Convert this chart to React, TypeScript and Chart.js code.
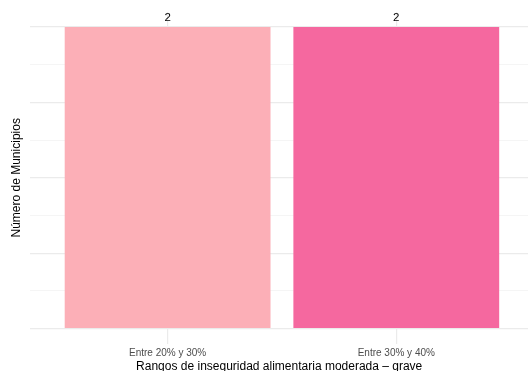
import React, { useEffect, useRef } from "react";
import { Chart, registerables } from "chart.js";

Chart.register(...registerables);

const CATEGORIES = ["Entre 20% y 30%", "Entre 30% y 40%"];
const VALUES = [2, 2];
const BAR_COLORS = ["#FCAFB7", "#F5689F"];
const Y_GRID = [0, 0.25, 0.5, 0.75, 1, 1.25, 1.5, 1.75, 2];
const X_TITLE = "Rangos de inseguridad alimentaria moderada – grave";
const Y_TITLE = "Número de Municipios";

const FONT = "'Liberation Sans', Arial, Helvetica, sans-serif";

const valueLabels = {
  id: "valueLabels",
  afterDatasetsDraw(chart: any) {
    const ctx = chart.ctx;
    const meta = chart.getDatasetMeta(0);
    ctx.save();
    ctx.fillStyle = "#000000";
    ctx.font = `11.5px ${FONT}`;
    ctx.textAlign = "center";
    ctx.textBaseline = "bottom";
    meta.data.forEach((bar: any, i: number) => {
      ctx.fillText(String(VALUES[i]), bar.x, bar.y - 3);
    });
    ctx.restore();
  },
};

export default function App() {
  const ref = useRef<HTMLCanvasElement | null>(null);

  useEffect(() => {
    document.body.style.margin = "0";
    const canvas = ref.current!;
    const chart = new Chart(canvas, {
      type: "bar",
      data: {
        datasets: [
          {
            data: CATEGORIES.map((c, i) => ({ x: i, y: VALUES[i] })),
            backgroundColor: BAR_COLORS,
            borderWidth: 0,
            categoryPercentage: 1,
            barPercentage: 0.9,
          },
        ],
      },
      options: {
        animation: false,
        responsive: false,
        maintainAspectRatio: false,
        layout: { padding: { top: 12, left: 6, right: 0, bottom: -8 } },
        plugins: {
          legend: { display: false },
          tooltip: { enabled: false },
        },
        scales: {
          x: {
            type: "linear",
            offset: false,
            min: -0.6,
            max: 1.576,
            afterBuildTicks: (axis: any) => {
              axis.ticks = CATEGORIES.map((c, i) => ({ value: i }));
            },
            grid: {
              offset: false,
              color: "#EBEBEB",
              lineWidth: 1.2,
              drawTicks: false,
            },
            border: { display: false },
            ticks: {
              padding: 4,
              color: "#4D4D4D",
              font: { family: FONT, size: 10 },
              maxRotation: 0,
              autoSkip: false,
              callback: (v: any) => CATEGORIES[Math.round(Number(v))] ?? "",
            },
            title: {
              display: true,
              text: X_TITLE,
              color: "#000000",
              font: { family: FONT, size: 12 },
              padding: { top: -4, bottom: 5 },
            },
          },
          y: {
            min: -0.1,
            max: 2.1,
            afterBuildTicks: (axis: any) => {
              axis.ticks = Y_GRID.map((v) => ({ value: v }));
            },
            grid: {
              color: (ctx: any) =>
                ctx.tick && Math.abs((ctx.tick.value * 2) % 1) < 1e-6 ? "#EBEBEB" : "#F3F3F3",
              lineWidth: (ctx: any) =>
                ctx.tick && Math.abs((ctx.tick.value * 2) % 1) < 1e-6 ? 1.2 : 0.8,
              drawTicks: false,
            },
            border: { display: false },
            ticks: { display: false },
            title: {
              display: true,
              text: Y_TITLE,
              color: "#000000",
              font: { family: FONT, size: 12 },
              padding: { top: 3, bottom: 7 },
            },
          },
        },
      },
      plugins: [valueLabels],
    } as any);
    return () => chart.destroy();
  }, []);

  return (
    <div style={{ width: 528, height: 371 }}>
      <canvas ref={ref} width={528} height={371} style={{ display: "block" }} />
    </div>
  );
}
